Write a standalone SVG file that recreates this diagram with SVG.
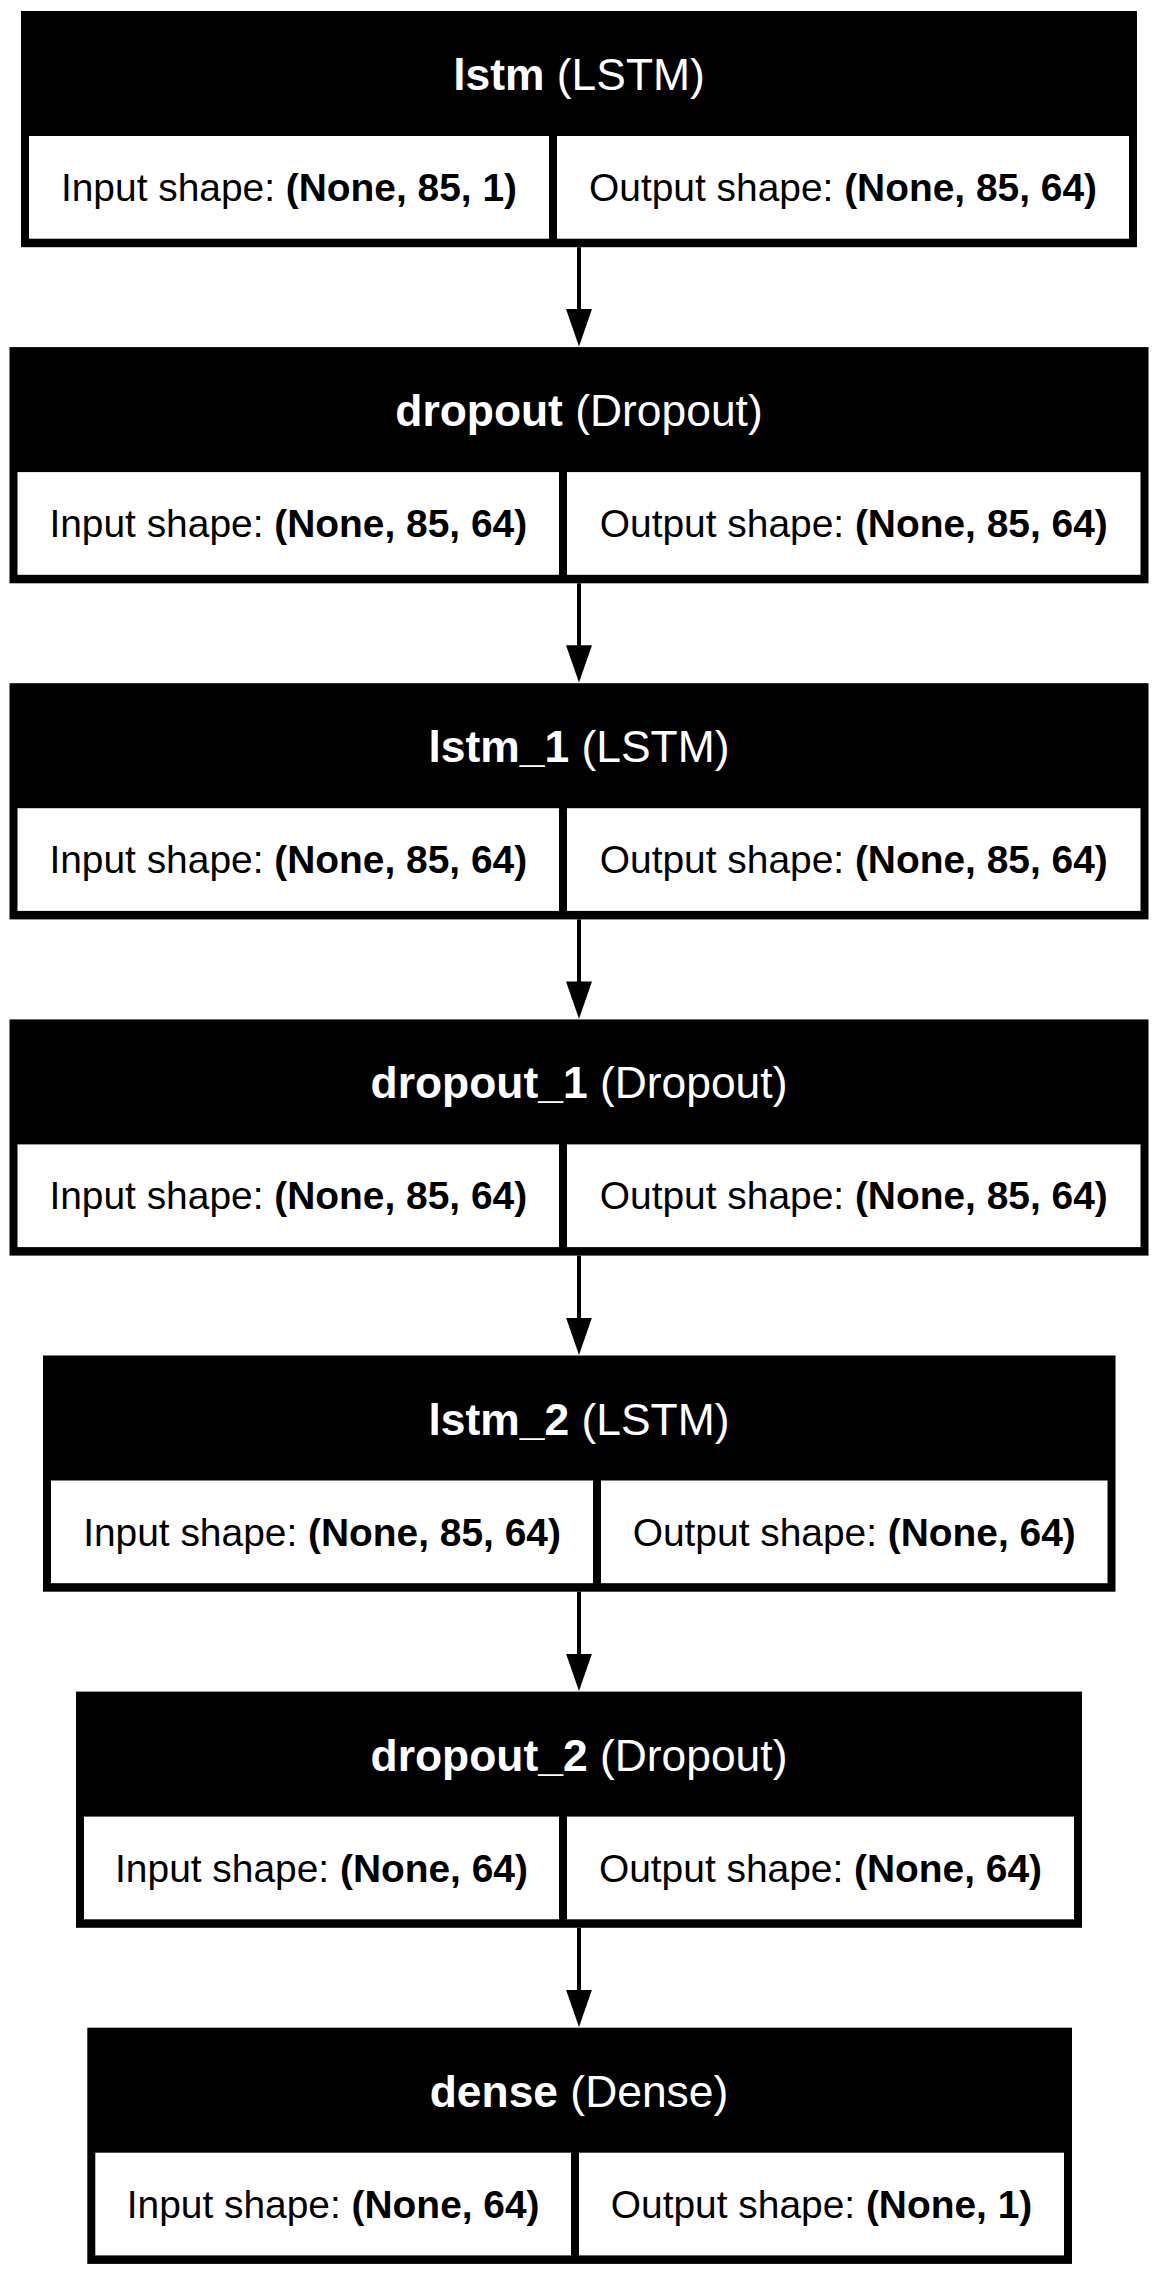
<svg xmlns="http://www.w3.org/2000/svg" width="1158" height="2275" viewBox="0 0 1158 2275">
  <defs>
    <style>
      .frame { fill: #000000; }
      .cell { fill: #ffffff; }
      .title { font-family: "Liberation Sans", Arial, Helvetica, sans-serif; font-size: 44.4px; fill: #ffffff; text-anchor: middle; }
      .shape { font-family: "Liberation Sans", Arial, Helvetica, sans-serif; font-size: 38.9px; fill: #000000; text-anchor: middle; }
      .b { font-weight: bold; }
      .edge { stroke: #000000; stroke-width: 4; fill: none; marker-end: url(#head); }
    </style>
    <marker id="head" markerUnits="userSpaceOnUse" orient="auto" markerWidth="38" markerHeight="26" refX="1" refY="13" viewBox="0 0 38 26">
      <path d="M0,0 L37.4,13 L0,26 Z" fill="#000000"/>
    </marker>
  </defs>
  <rect width="1158" height="2275" fill="#ffffff"/>

  <!-- connectors between consecutive layers -->
  <g id="connectors">
    <line class="edge" x1="579" y1="247.2" x2="579" y2="310.1"/>
    <line class="edge" x1="579" y1="583.3" x2="579" y2="646.2"/>
    <line class="edge" x1="579" y1="919.4" x2="579" y2="982.4"/>
    <line class="edge" x1="579" y1="1255.6" x2="579" y2="1318.5"/>
    <line class="edge" x1="579" y1="1591.7" x2="579" y2="1654.6"/>
    <line class="edge" x1="579" y1="1927.8" x2="579" y2="1990.7"/>
  </g>

  <!-- layer: lstm -->
  <g id="lstm">
    <rect class="frame" x="21" y="11" width="1116" height="236.2"/>
    <rect class="cell" x="29" y="136" width="520" height="102.7"/>
    <rect class="cell" x="557" y="136" width="572" height="102.7"/>
    <text class="title" x="579" y="90"><tspan class="b">lstm</tspan> (LSTM)</text>
    <text class="shape" x="289" y="201">Input shape: <tspan class="b">(None, 85, 1)</tspan></text>
    <text class="shape" x="843" y="201">Output shape: <tspan class="b">(None, 85, 64)</tspan></text>
  </g>

  <!-- layer: dropout -->
  <g id="dropout">
    <rect class="frame" x="9.5" y="347.1" width="1139" height="236.2"/>
    <rect class="cell" x="17.5" y="472.1" width="541.5" height="102.7"/>
    <rect class="cell" x="567" y="472.1" width="573.5" height="102.7"/>
    <text class="title" x="579" y="426.1"><tspan class="b">dropout</tspan> (Dropout)</text>
    <text class="shape" x="288.25" y="537.1">Input shape: <tspan class="b">(None, 85, 64)</tspan></text>
    <text class="shape" x="853.75" y="537.1">Output shape: <tspan class="b">(None, 85, 64)</tspan></text>
  </g>

  <!-- layer: lstm_1 -->
  <g id="lstm_1">
    <rect class="frame" x="9.5" y="683.2" width="1139" height="236.2"/>
    <rect class="cell" x="17.5" y="808.2" width="541.5" height="102.7"/>
    <rect class="cell" x="567" y="808.2" width="573.5" height="102.7"/>
    <text class="title" x="579" y="762.2"><tspan class="b">lstm_1</tspan> (LSTM)</text>
    <text class="shape" x="288.25" y="873.2">Input shape: <tspan class="b">(None, 85, 64)</tspan></text>
    <text class="shape" x="853.75" y="873.2">Output shape: <tspan class="b">(None, 85, 64)</tspan></text>
  </g>

  <!-- layer: dropout_1 -->
  <g id="dropout_1">
    <rect class="frame" x="9.5" y="1019.4" width="1139" height="236.2"/>
    <rect class="cell" x="17.5" y="1144.4" width="541.5" height="102.7"/>
    <rect class="cell" x="567" y="1144.4" width="573.5" height="102.7"/>
    <text class="title" x="579" y="1098.4"><tspan class="b">dropout_1</tspan> (Dropout)</text>
    <text class="shape" x="288.25" y="1209.4">Input shape: <tspan class="b">(None, 85, 64)</tspan></text>
    <text class="shape" x="853.75" y="1209.4">Output shape: <tspan class="b">(None, 85, 64)</tspan></text>
  </g>

  <!-- layer: lstm_2 -->
  <g id="lstm_2">
    <rect class="frame" x="43" y="1355.5" width="1072.5" height="236.2"/>
    <rect class="cell" x="51" y="1480.5" width="542" height="102.7"/>
    <rect class="cell" x="601" y="1480.5" width="506.5" height="102.7"/>
    <text class="title" x="579" y="1434.5"><tspan class="b">lstm_2</tspan> (LSTM)</text>
    <text class="shape" x="322" y="1545.5">Input shape: <tspan class="b">(None, 85, 64)</tspan></text>
    <text class="shape" x="854.25" y="1545.5">Output shape: <tspan class="b">(None, 64)</tspan></text>
  </g>

  <!-- layer: dropout_2 -->
  <g id="dropout_2">
    <rect class="frame" x="76" y="1691.6" width="1006" height="236.2"/>
    <rect class="cell" x="84" y="1816.6" width="475" height="102.7"/>
    <rect class="cell" x="567" y="1816.6" width="507" height="102.7"/>
    <text class="title" x="579" y="1770.6"><tspan class="b">dropout_2</tspan> (Dropout)</text>
    <text class="shape" x="321.5" y="1881.6">Input shape: <tspan class="b">(None, 64)</tspan></text>
    <text class="shape" x="820.5" y="1881.6">Output shape: <tspan class="b">(None, 64)</tspan></text>
  </g>

  <!-- layer: dense -->
  <g id="dense">
    <rect class="frame" x="87.3" y="2027.7" width="984.7" height="236.2"/>
    <rect class="cell" x="95.3" y="2152.7" width="475.7" height="102.7"/>
    <rect class="cell" x="579" y="2152.7" width="485" height="102.7"/>
    <text class="title" x="579" y="2106.7"><tspan class="b">dense</tspan> (Dense)</text>
    <text class="shape" x="333.15" y="2217.7">Input shape: <tspan class="b">(None, 64)</tspan></text>
    <text class="shape" x="821.5" y="2217.7">Output shape: <tspan class="b">(None, 1)</tspan></text>
  </g>
</svg>
